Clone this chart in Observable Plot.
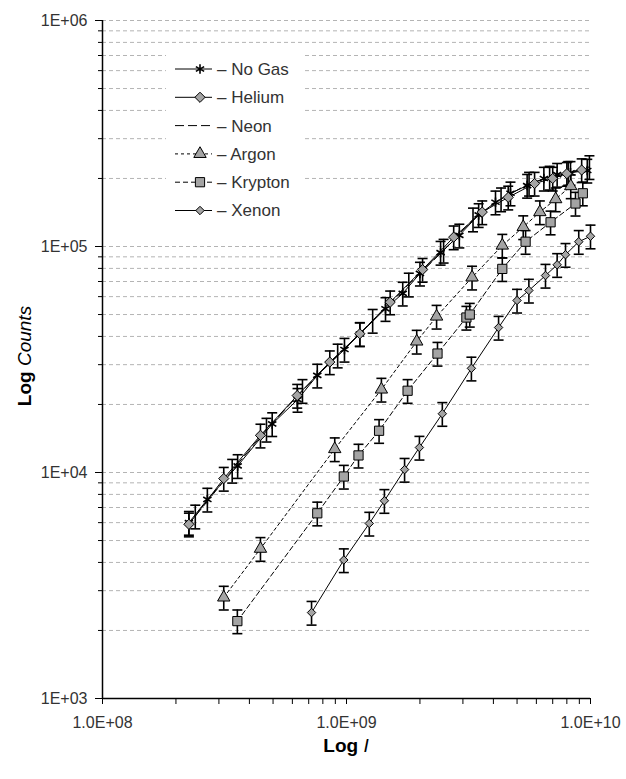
<!DOCTYPE html>
<html><head><meta charset="utf-8">
<script src="https://cdn.jsdelivr.net/npm/d3@7"></script>
<script src="https://cdn.jsdelivr.net/npm/@observablehq/plot@0.6"></script>
<style>
body{margin:0;background:#fff;}
#chart{position:relative;width:626px;height:779px;}
</style></head><body><div id="chart"></div>
<script>
// ---- data ----
const seriesNames = ["No Gas", "Helium", "Neon", "Argon", "Krypton", "Xenon"];

const noGasX = [2.26e8, 2.69e8, 3.58e8, 4.96e8, 6.3e8, 7.59e8, 9.81e8, 1.134e9, 1.445e9, 1.7e9, 2.0e9, 2.43e9, 2.9e9, 3.48e9, 4.08e9, 4.7e9, 5.5e9, 6.44e9, 7.3e9, 8.28e9, 9.7e9];
const noGasY = [6.0e3, 7.6e3, 1.07e4, 1.64e4, 2.1e4, 2.69e4, 3.5e4, 4.1e4, 5.3e4, 6.2e4, 7.6e4, 9.4e4, 1.12e5, 1.38e5, 1.57e5, 1.72e5, 1.86e5, 2.0e5, 2.08e5, 2.12e5, 2.17e5];

const heliumX = [2.26e8, 3.14e8, 4.44e8, 6.28e8, 8.54e8, 1.134e9, 1.51e9, 2.05e9, 2.75e9, 3.6e9, 4.6e9, 5.9e9, 7.0e9, 8.0e9, 9.2e9];
const heliumY = [5.9e3, 9.4e3, 1.46e4, 2.19e4, 3.08e4, 4.11e4, 5.67e4, 7.9e4, 1.10e5, 1.42e5, 1.65e5, 1.9e5, 2.0e5, 2.1e5, 2.18e5];

const neonX = [2.4e8, 3.4e8, 4.7e8, 6.6e8, 9.2e8, 1.28e9, 1.8e9, 2.5e9, 3.3e9, 4.3e9, 5.6e9, 6.8e9, 8.1e9, 9.9e9];
const neonY = [6.4e3, 1.02e4, 1.55e4, 2.3e4, 3.3e4, 4.7e4, 6.8e4, 9.6e4, 1.32e5, 1.62e5, 1.9e5, 2.02e5, 2.12e5, 2.25e5];

const argonX = [3.14e8, 4.44e8, 8.95e8, 1.39e9, 1.94e9, 2.34e9, 3.27e9, 4.35e9, 5.3e9, 6.2e9, 7.2e9, 8.3e9];
const argonY = [2.8e3, 4.6e3, 1.27e4, 2.33e4, 3.8e4, 4.9e4, 7.3e4, 1.01e5, 1.22e5, 1.42e5, 1.62e5, 1.85e5];

const kryptonX = [3.57e8, 7.59e8, 9.75e8, 1.12e9, 1.36e9, 1.78e9, 2.36e9, 3.1e9, 3.2e9, 4.35e9, 5.42e9, 6.86e9, 8.68e9, 9.3e9];
const kryptonY = [2.2e3, 6.6e3, 9.6e3, 1.19e4, 1.53e4, 2.3e4, 3.36e4, 4.85e4, 5.0e4, 7.96e4, 1.05e5, 1.28e5, 1.55e5, 1.72e5];

const xenonX = [7.19e8, 9.75e8, 1.24e9, 1.43e9, 1.73e9, 1.99e9, 2.47e9, 3.25e9, 4.2e9, 5.0e9, 5.59e9, 6.54e9, 7.3e9, 7.9e9, 8.95e9, 1e10];
const xenonY = [2.4e3, 4.1e3, 5.95e3, 7.5e3, 1.03e4, 1.29e4, 1.82e4, 2.89e4, 4.38e4, 5.77e4, 6.39e4, 7.44e4, 8.3e4, 9.2e4, 1.05e5, 1.11e5];

const errorFraction = 0.12; // percent error bars

const yTickValues = [1e3, 1e4, 1e5, 1e6];
const yTickLabels = ["1E+03", "1E+04", "1E+05", "1E+06"];
const xTickValues = [1e8, 1e9, 1e10];
const xTickLabels = ["1.0E+08", "1.0E+09", "1.0E+10"];

// ---- build table ----
const seriesXY = {
  "No Gas": [noGasX, noGasY], "Helium": [heliumX, heliumY], "Neon": [neonX, neonY],
  "Argon": [argonX, argonY], "Krypton": [kryptonX, kryptonY], "Xenon": [xenonX, xenonY]
};
const rows = seriesNames.flatMap(s => seriesXY[s][0].map((x, i) => ({series: s, x, y: seriesXY[s][1][i]})));

// styles
const GRAY = "#a4a4a4";
const style = {
  "No Gas": {symbol: "asterisk", fill: "none", stroke: "#000", r: 4.5, dash: null},
  "Helium": {symbol: "diamond2", fill: GRAY, stroke: "#000", r: 4.6, dash: null},
  "Neon":   {symbol: null, dash: "9,4"},
  "Argon":  {symbol: "triangle", fill: GRAY, stroke: "#000", r: 4.6, dash: "3,3"},
  "Krypton":{symbol: "square", fill: GRAY, stroke: "#000", r: 5.2, dash: "5,3"},
  "Xenon":  {symbol: "diamond2", fill: GRAY, stroke: "#000", r: 3.8, dash: null}
};
const FONT = "'Liberation Sans', Arial, sans-serif";

const capSymbol = {draw(ctx) { ctx.moveTo(-5, 0); ctx.lineTo(5, 0); }};

// minor ticks
const minorY = d3.range(3, 6).flatMap(e => d3.range(1, 10).map(k => k * 10 ** e)).concat([1e6]);
const minorX = d3.range(8, 10).flatMap(e => d3.range(2, 10).map(k => k * 10 ** e));

const marks = [
  Plot.ruleY(minorY, {stroke: "#b4b4b4", strokeDasharray: "4,3", strokeWidth: 1}),
];
for (const s of seriesNames) {
  const data = rows.filter(d => d.series === s);
  marks.push(Plot.line(data, {x: "x", y: "y", stroke: "#000", strokeWidth: 1, strokeDasharray: style[s].dash}));
}
for (const s of seriesNames) {
  const data = rows.filter(d => d.series === s);
  marks.push(Plot.ruleX(data, {x: "x", y1: d => d.y * (1 - errorFraction), y2: d => d.y * (1 + errorFraction), stroke: "#000", strokeWidth: 1.6}));
  marks.push(Plot.dot(data, {x: "x", y: d => d.y * (1 + errorFraction), symbol: capSymbol, stroke: "#000", strokeWidth: 1.6, fill: "none"}));
  marks.push(Plot.dot(data, {x: "x", y: d => d.y * (1 - errorFraction), symbol: capSymbol, stroke: "#000", strokeWidth: 1.6, fill: "none"}));
}
for (const s of seriesNames) {
  const st = style[s];
  if (!st.symbol) continue;
  const data = rows.filter(d => d.series === s);
  marks.push(Plot.dot(data, {x: "x", y: "y", symbol: st.symbol, r: st.r, fill: st.fill, stroke: st.stroke, strokeWidth: st.symbol === "asterisk" ? 1.6 : 1}));
}
marks.push(
  Plot.ruleX([1e8], {stroke: "#000", strokeWidth: 1.5}),
  Plot.ruleY([1e3], {stroke: "#000", strokeWidth: 1.5}),
  Plot.axisY(minorY, {tickSize: 4, tickFormat: () => "", stroke: "#000", label: null}),
  Plot.axisY(yTickValues, {tickSize: 7, tickPadding: 8, tickFormat: d => yTickLabels[yTickValues.indexOf(d)], fontSize: 16, fill: "#333", stroke: "#000", label: null}),
  Plot.axisX(minorX, {tickSize: 6, tickFormat: () => "", stroke: "#000", label: null}),
  Plot.axisX(xTickValues, {tickSize: 6, tickPadding: 12, tickFormat: d => xTickLabels[xTickValues.indexOf(d)], fontSize: 16, fill: "#333", stroke: "#000", label: null})
);

const svg = Plot.plot({
  width: 626, height: 779,
  marginLeft: 102, marginRight: 36, marginTop: 20, marginBottom: 81,
  x: {type: "log", domain: [1e8, 1e10], label: null},
  y: {type: "log", domain: [1e3, 1e6], label: null},
  style: {fontFamily: FONT, background: "#fff", overflow: "visible"},
  marks
});

// titles
const sel = d3.select(svg);
const yt = sel.append("text").attr("transform", "translate(31,356) rotate(-90)")
  .attr("text-anchor", "middle").attr("font-family", FONT).attr("font-size", 19).attr("fill", "#000");
yt.append("tspan").attr("font-weight", "bold").text("Log ");
yt.append("tspan").attr("font-style", "italic").text("Counts");
const xt = sel.append("text").attr("x", 346).attr("y", 752)
  .attr("text-anchor", "middle").attr("font-family", FONT).attr("font-size", 19).attr("fill", "#000");
xt.append("tspan").attr("font-weight", "bold").text("Log ");
xt.append("tspan").attr("font-style", "italic").text("I");

// legend
const symbolTypes = {asterisk: d3.symbolAsterisk, diamond2: d3.symbolDiamond2, triangle: d3.symbolTriangle, square: d3.symbolSquare};
const lg = sel.append("g").attr("text-anchor", "start");
lg.append("rect").attr("x", 166).attr("y", 52).attr("width", 138).attr("height", 174).attr("fill", "#fff");
seriesNames.forEach((s, i) => {
  const st = style[s];
  const y = 69 + i * 28.3;
  const g = lg.append("g").attr("transform", `translate(0,${y})`);
  g.append("line").attr("x1", 175).attr("x2", 212).attr("y1", 0).attr("y2", 0)
    .attr("stroke", "#000").attr("stroke-width", 1).attr("stroke-dasharray", st.dash);
  if (st.symbol) {
    g.append("path").attr("transform", "translate(200,0)")
      .attr("d", d3.symbol().type(symbolTypes[st.symbol]).size(st.r * st.r * Math.PI)())
      .attr("fill", st.fill).attr("stroke", st.stroke).attr("stroke-width", st.symbol === "asterisk" ? 1.6 : 1);
  }
  g.append("text").attr("x", 217).attr("y", 0).attr("dy", "0.35em").attr("text-anchor", "start")
    .attr("font-family", FONT).attr("font-size", 17).attr("fill", "#333").text("– " + s);
});

document.getElementById("chart").appendChild(svg);
</script></body></html>
